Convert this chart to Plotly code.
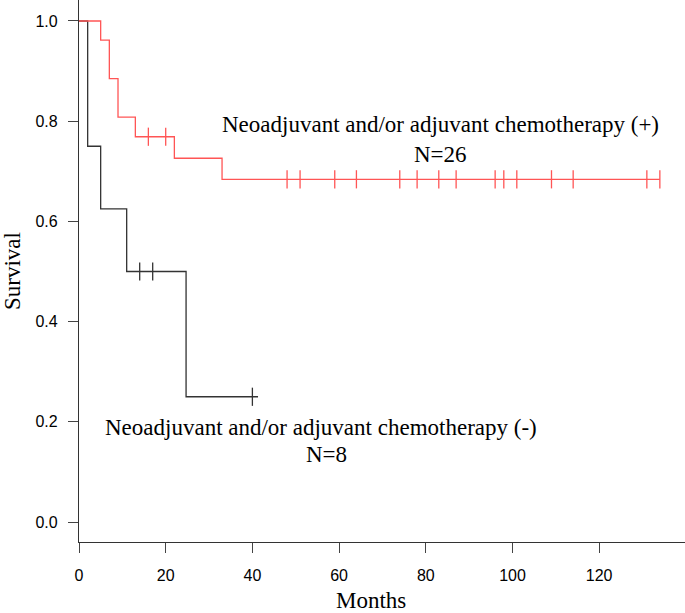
import plotly.graph_objs as go

# Kaplan-Meier steps (months, survival)
pos_times = [0, 5, 7, 9, 13, 22, 33, 134]
pos_surv = [1.0, 0.962, 0.885, 0.808, 0.769, 0.726, 0.684, 0.684]
pos_censored = [16, 20, 48, 51, 59, 64, 74, 78, 83, 87, 96, 98, 101, 109, 114, 131, 134]

neg_times = [0, 2, 5, 11, 24.7, 41.3]
neg_surv = [1.0, 0.75, 0.625, 0.5, 0.25, 0.25]
neg_censored = [14, 17, 40]

x_ticks = [0, 20, 40, 60, 80, 100, 120]
y_ticks = [0.0, 0.2, 0.4, 0.6, 0.8, 1.0]

label_pos = "Neoadjuvant and/or adjuvant chemotherapy (+)"
label_neg = "Neoadjuvant and/or adjuvant chemotherapy (-)"
n_pos = "N=26"
n_neg = "N=8"

RED = "#ff5555"
DARK = "#333333"


def surv_at(times, surv, t):
    """value of the step function at time t"""
    s = surv[0]
    for ti, si in zip(times, surv):
        if ti <= t:
            s = si
    return s


fig = go.Figure()
for times, surv, cens, col in [(neg_times, neg_surv, neg_censored, DARK),
                                (pos_times, pos_surv, pos_censored, RED)]:
    fig.add_trace(go.Scatter(x=times, y=surv, mode="lines", line_shape="hv",
                             line=dict(color=col, width=1.3), showlegend=False))
    fig.add_trace(go.Scatter(x=cens, y=[surv_at(times, surv, t) for t in cens],
                             mode="markers", showlegend=False,
                             marker=dict(symbol="line-ns", size=13,
                                         line=dict(color=col, width=1.3))))

serif = dict(family="Liberation Serif", size=23, color="black")
fig.add_annotation(x=83.5, y=0.794, text=label_pos, showarrow=False, font=serif)
fig.add_annotation(x=83.5, y=0.733, text=n_pos, showarrow=False, font=serif)
fig.add_annotation(x=55.8, y=0.188, text=label_neg, showarrow=False, font=serif)
fig.add_annotation(x=57.2, y=0.134, text=n_neg, showarrow=False, font=serif)

# axis titles
fig.add_annotation(xref="paper", yref="paper", x=0, y=0.5, xshift=-67,
                   xanchor="center", yanchor="middle",
                   text="Survival", textangle=-90, showarrow=False, font=serif)
fig.add_annotation(xref="paper", yref="paper", x=0.4818, y=0, yshift=-58,
                   xanchor="center", yanchor="middle",
                   text="Months", showarrow=False, font=serif)

axis_common = dict(showgrid=False, zeroline=False, showline=True,
                   linecolor=DARK, linewidth=1.3, ticks="outside",
                   ticklen=10, tickwidth=1.3, tickcolor="#444444",
                   tickfont=dict(family="Liberation Sans", size=16, color="black"))
fig.update_xaxes(range=[0, 139.8], tickvals=x_ticks, ticklabelstandoff=9,
                 **axis_common)
fig.update_yaxes(range=[-0.0399, 1.0419], tickvals=y_ticks, tickformat=".1f",
                 ticklabelstandoff=7, **axis_common)

fig.update_layout(width=685, height=613, plot_bgcolor="white", paper_bgcolor="white",
                  margin=dict(l=79, r=0, t=0, b=71))

# drop the browser's default body margin so the chart sits at the page corner
fig.write_html("out.html", config={"displayModeBar": False},
               post_script="document.body.style.margin='0';")
